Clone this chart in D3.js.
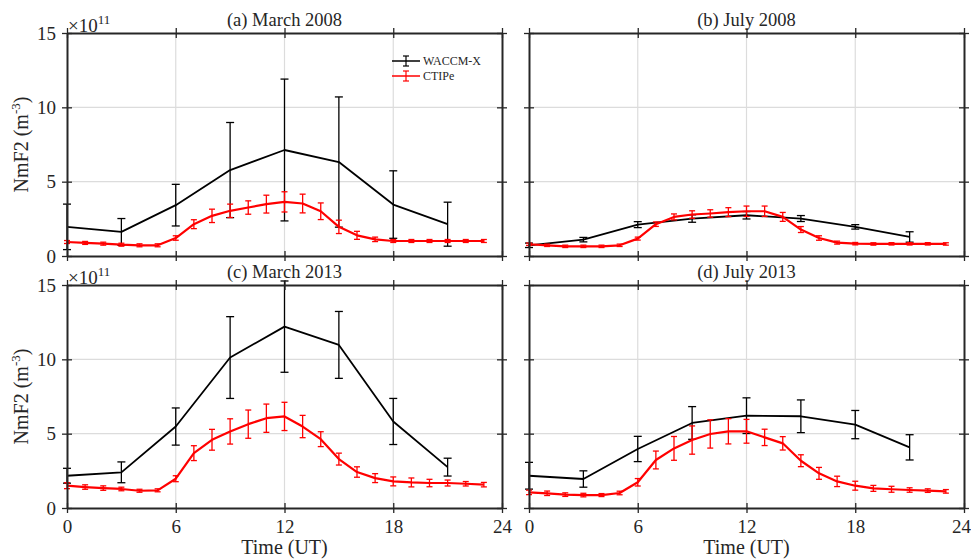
<!DOCTYPE html>
<html>
<head>
<meta charset="utf-8">
<script src="https://cdn.jsdelivr.net/npm/d3@7"></script>
<style>
  body { margin: 0; background: #fff; }
  text { font-family: "Liberation Serif", "Times New Roman", serif; fill: #262626; }
</style>
</head>
<body>
<div id="chart"></div>
<script>
// hours of the model output
let hoursW = [0, 3, 6, 9, 12, 15, 18, 21];
let hoursC = d3.range(0, 24);

let titles = ["(a) March 2008", "(b) July 2008", "(c) March 2013", "(d) July 2013"];
let xTicks = [0, 6, 12, 18, 24];
let yTicks = [0, 5, 10, 15];

// NmF2 in 1e11 m^-3 : mean and error, one array per panel
let waccmA = [1.96, 1.62, 3.42, 5.78, 7.13, 6.32, 3.46, 2.14];
let waccmAErr = [1.53, 0.9, 1.4, 3.2, 4.77, 4.38, 2.27, 1.48];
let ctipeA = [0.94, 0.88, 0.83, 0.76, 0.72, 0.72, 1.21, 2.14, 2.7, 3.04, 3.26, 3.49, 3.64, 3.53, 3.01, 1.96, 1.39, 1.12, 1.01, 1.01, 1.01, 1.01, 1.01, 1.01];
let ctipeAErr = [0.1, 0.1, 0.1, 0.1, 0.1, 0.1, 0.15, 0.3, 0.45, 0.45, 0.45, 0.6, 0.68, 0.63, 0.56, 0.45, 0.27, 0.15, 0.1, 0.1, 0.1, 0.1, 0.1, 0.1];

let waccmB = [0.72, 1.1, 2.11, 2.52, 2.74, 2.52, 1.96, 1.28];
let waccmBErr = [0.15, 0.15, 0.2, 0.25, 0.25, 0.2, 0.15, 0.35];
let ctipeB = [0.79, 0.72, 0.65, 0.65, 0.65, 0.72, 1.17, 2.14, 2.63, 2.79, 2.86, 2.95, 3.01, 3.01, 2.63, 1.78, 1.21, 0.9, 0.83, 0.81, 0.82, 0.82, 0.82, 0.81];
let ctipeBErr = [0.08, 0.08, 0.08, 0.08, 0.08, 0.08, 0.1, 0.15, 0.2, 0.25, 0.25, 0.3, 0.35, 0.35, 0.3, 0.2, 0.15, 0.1, 0.08, 0.08, 0.08, 0.08, 0.08, 0.08];

let waccmC = [2.17, 2.4, 5.48, 10.12, 12.2, 10.97, 5.82, 2.75];
let waccmCErr = [0.5, 0.7, 1.25, 2.75, 3.07, 2.25, 1.55, 0.6];
let ctipeC = [1.5, 1.41, 1.34, 1.28, 1.16, 1.19, 1.97, 3.69, 4.59, 5.15, 5.64, 6.04, 6.16, 5.48, 4.63, 3.29, 2.42, 2.01, 1.79, 1.72, 1.68, 1.68, 1.63, 1.57];
let ctipeCErr = [0.2, 0.15, 0.15, 0.12, 0.1, 0.1, 0.2, 0.5, 0.7, 0.85, 0.95, 0.95, 0.95, 0.75, 0.5, 0.4, 0.35, 0.3, 0.3, 0.3, 0.25, 0.2, 0.15, 0.15];

let waccmD = [2.17, 1.95, 3.97, 5.72, 6.21, 6.17, 5.61, 4.08];
let waccmDErr = [0.9, 0.55, 0.85, 1.1, 1.2, 1.1, 0.95, 0.85];
let ctipeD = [1.05, 0.99, 0.9, 0.87, 0.87, 1.01, 1.73, 3.23, 4.01, 4.57, 4.98, 5.16, 5.16, 4.75, 4.35, 3.18, 2.33, 1.79, 1.5, 1.32, 1.26, 1.21, 1.17, 1.12];
let ctipeDErr = [0.15, 0.15, 0.12, 0.12, 0.1, 0.12, 0.25, 0.6, 0.8, 0.95, 0.95, 0.85, 0.8, 0.55, 0.45, 0.4, 0.4, 0.35, 0.3, 0.2, 0.2, 0.15, 0.12, 0.12];

let panels = [
    {title: titles[0], w: waccmA, we: waccmAErr, c: ctipeA, ce: ctipeAErr, x: 67, y: 33, left: true, bottom: false},
    {title: titles[1], w: waccmB, we: waccmBErr, c: ctipeB, ce: ctipeBErr, x: 529, y: 33, left: false, bottom: false},
    {title: titles[2], w: waccmC, we: waccmCErr, c: ctipeC, ce: ctipeCErr, x: 67, y: 285, left: true, bottom: true},
    {title: titles[3], w: waccmD, we: waccmDErr, c: ctipeD, ce: ctipeDErr, x: 529, y: 285, left: false, bottom: true}
];

let pw = 435;
let ph = 223;
let axisColor = "#262626";
let serif = "'Liberation Serif', 'Times New Roman', serif";

let svg = d3.select("#chart")
    .append("svg")
        .attr("width", 971)
        .attr("height", 560)
;

let x = d3.scaleLinear().domain([0, 24]).range([0, pw]);
let y = d3.scaleLinear().domain([0, 15]).range([ph, 0]);

let line = d3.line()
    .x(d => x(d[0]))
    .y(d => y(d[1]));

function drawSeries(g, hours, vals, errs, color, lw, cap) {
    let pts = hours.map((h, i) => [h, vals[i], errs[i]]);
    g.append("path")
        .datum(pts)
        .attr("d", line)
        .attr("fill", "none")
        .attr("stroke", color)
        .attr("stroke-width", lw)
        .attr("stroke-linejoin", "round");
    let eb = g.selectAll(null).data(pts).enter().append("g")
        .attr("stroke", color)
        .attr("stroke-width", 1.3);
    eb.append("line")
        .attr("x1", d => x(d[0])).attr("x2", d => x(d[0]))
        .attr("y1", d => y(d[1] - d[2])).attr("y2", d => y(d[1] + d[2]));
    eb.append("line")
        .attr("x1", d => x(d[0]) - cap).attr("x2", d => x(d[0]) + cap)
        .attr("y1", d => y(d[1] + d[2])).attr("y2", d => y(d[1] + d[2]));
    eb.append("line")
        .attr("x1", d => x(d[0]) - cap).attr("x2", d => x(d[0]) + cap)
        .attr("y1", d => y(d[1] - d[2])).attr("y2", d => y(d[1] - d[2]));
}

panels.forEach(function(p) {
    let g = svg.append("g").attr("transform", "translate(" + p.x + "," + p.y + ")");

    // grid
    g.selectAll(".gx").data(xTicks.slice(1, -1)).enter().append("line")
        .attr("x1", d => x(d)).attr("x2", d => x(d))
        .attr("y1", 0).attr("y2", ph)
        .attr("stroke", "#dcdcdc").attr("stroke-width", 1.2);
    g.selectAll(".gy").data(yTicks.slice(1, -1)).enter().append("line")
        .attr("x1", 0).attr("x2", pw)
        .attr("y1", d => y(d)).attr("y2", d => y(d))
        .attr("stroke", "#dcdcdc").attr("stroke-width", 1.2);

    drawSeries(g, hoursW, p.w, p.we, "black", 1.8, 4);
    drawSeries(g, hoursC, p.c, p.ce, "#ff0000", 2.2, 3);

    // axes, ticks on every side, both directions
    let axB = d3.axisBottom(x).tickValues(xTicks).tickSizeInner(-5).tickSizeOuter(0).tickPadding(12);
    if (!p.bottom) axB.tickFormat("");
    let axT = d3.axisTop(x).tickValues(xTicks).tickSizeInner(-5).tickSizeOuter(0).tickFormat("");
    let axL = d3.axisLeft(y).tickValues(yTicks).tickSizeInner(-5).tickSizeOuter(0).tickPadding(11);
    if (!p.left) axL.tickFormat("");
    let axR = d3.axisRight(y).tickValues(yTicks).tickSizeInner(-5).tickSizeOuter(0).tickFormat("");

    let axes = [
        g.append("g").attr("transform", "translate(0," + ph + ")").call(axB),
        g.append("g").call(axT),
        g.append("g").call(axL),
        g.append("g").attr("transform", "translate(" + pw + ",0)").call(axR)
    ];
    axes.forEach(function(a) {
        a.selectAll("path").attr("stroke", axisColor).attr("stroke-width", 2);
        a.selectAll("line").attr("stroke", axisColor).attr("stroke-width", 1.3);
        a.selectAll(".tick").each(function() {
            let t = d3.select(this).select("line");
            let isX = t.attr("y2") != null && t.attr("x2") == null;
            t.clone().attr(isX ? "y2" : "x2", isX ? (+t.attr("y2") * -1) : (+t.attr("x2") * -1));
        });
        a.selectAll("text")
            .style("font-family", serif)
            .style("font-size", "19px")
            .attr("fill", axisColor);
    });
    if (p.bottom && !p.left) {
        // keep the last label inside the page
        axes[0].selectAll(".tick text").filter(d => d === 24).attr("dx", -3);
    }

    g.append("text")
        .attr("x", pw / 2).attr("y", -7)
        .attr("text-anchor", "middle")
        .style("font-family", serif)
        .style("font-size", "18.5px")
        .text(p.title);

    if (p.left) {
        let e = g.append("text").attr("x", 1).attr("y", -1)
            .style("font-family", serif).style("font-size", "19px");
        e.append("tspan").text("\u00d710");
        e.append("tspan").style("font-size", "13px").attr("dy", -8).text("11");

        let yl = g.append("text")
            .attr("transform", "translate(-39," + (ph / 2) + ") rotate(-90)")
            .attr("text-anchor", "middle")
            .style("font-family", serif)
            .style("font-size", "20px");
        yl.append("tspan").text("NmF2 (m");
        yl.append("tspan").style("font-size", "13px").attr("dy", -8).text("-3");
        yl.append("tspan").attr("dy", 8).text(")");
    }
    if (p.bottom) {
        g.append("text")
            .attr("x", pw / 2).attr("y", ph + 46)
            .attr("text-anchor", "middle")
            .style("font-family", serif)
            .style("font-size", "20px")
            .text("Time (UT)");
    }
});

// legend inside panel (a)
let legend = svg.append("g").attr("transform", "translate(392,61)");
let legItems = [{name: "WACCM-X", color: "black"}, {name: "CTIPe", color: "#ff0000"}];
let li = legend.selectAll(".li").data(legItems).enter().append("g")
    .attr("transform", (d, i) => "translate(0," + (i * 15) + ")");
li.append("line").attr("x1", 0).attr("x2", 28).attr("y1", 0).attr("y2", 0)
    .attr("stroke", d => d.color).attr("stroke-width", 1.5);
li.append("line").attr("x1", 14).attr("x2", 14).attr("y1", -5).attr("y2", 5)
    .attr("stroke", d => d.color).attr("stroke-width", 1.2);
li.append("line").attr("x1", 11).attr("x2", 17).attr("y1", -5).attr("y2", -5)
    .attr("stroke", d => d.color).attr("stroke-width", 1.2);
li.append("line").attr("x1", 11).attr("x2", 17).attr("y1", 5).attr("y2", 5)
    .attr("stroke", d => d.color).attr("stroke-width", 1.2);
li.append("text").attr("x", 31).attr("y", 4)
    .style("font-family", serif)
    .style("font-size", "12px")
    .text(d => d.name);
</script>
</body>
</html>
